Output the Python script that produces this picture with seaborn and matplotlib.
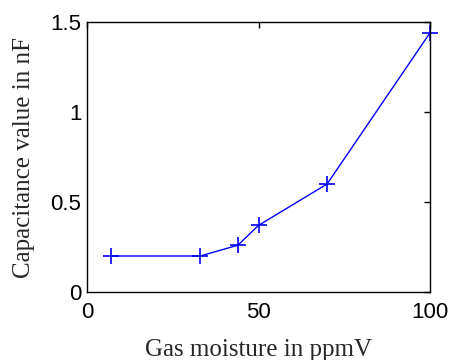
import numpy as np
import pandas as pd
import matplotlib.pyplot as plt
import seaborn as sns

# data
moisture = [7, 33, 44, 50, 70, 100]
capacitance = [0.2, 0.2, 0.26, 0.37, 0.6, 1.44]
xticks = [0, 50, 100]
yticks = [0, 0.5, 1, 1.5]

df = pd.DataFrame({'moisture': moisture, 'capacitance': capacitance})

sns.set_style('white')
plt.rcParams['font.family'] = ['Liberation Sans', 'DejaVu Sans']

fig = plt.figure(figsize=(4.51, 3.6), dpi=100, facecolor='white')
ax = fig.add_axes([87 / 451, 1 - 292 / 360, (430 - 87) / 451, (292 - 22) / 360])

sns.lineplot(data=df, x='moisture', y='capacitance', ax=ax, color='blue',
             marker='+', markersize=12, markeredgewidth=1.2,
             markeredgecolor='blue', linewidth=1, clip_on=False)

ax.set_xlim(0, 100)
ax.set_ylim(0, 1.5)
ax.set_xticks(xticks)
ax.set_xticklabels([str(t) for t in xticks])
ax.set_yticks(yticks)
ax.set_yticklabels(['0', '0.5', '1', '1.5'])
ax.tick_params(direction='in', length=4, width=1, top=True, right=True,
               labelsize=16, colors='black')
ax.tick_params(axis='x', pad=7)
ax.tick_params(axis='y', pad=4)
for s in ax.spines.values():
    s.set_color('black')
    s.set_linewidth(1)

ax.set_xlabel('Gas moisture in ppmV', family='Liberation Serif', fontsize=18, labelpad=12)
ax.set_ylabel('Capacitance value in nF', family='Liberation Serif', fontsize=18, labelpad=11)

plt.savefig('out.png', dpi=100)
plt.close('all')
